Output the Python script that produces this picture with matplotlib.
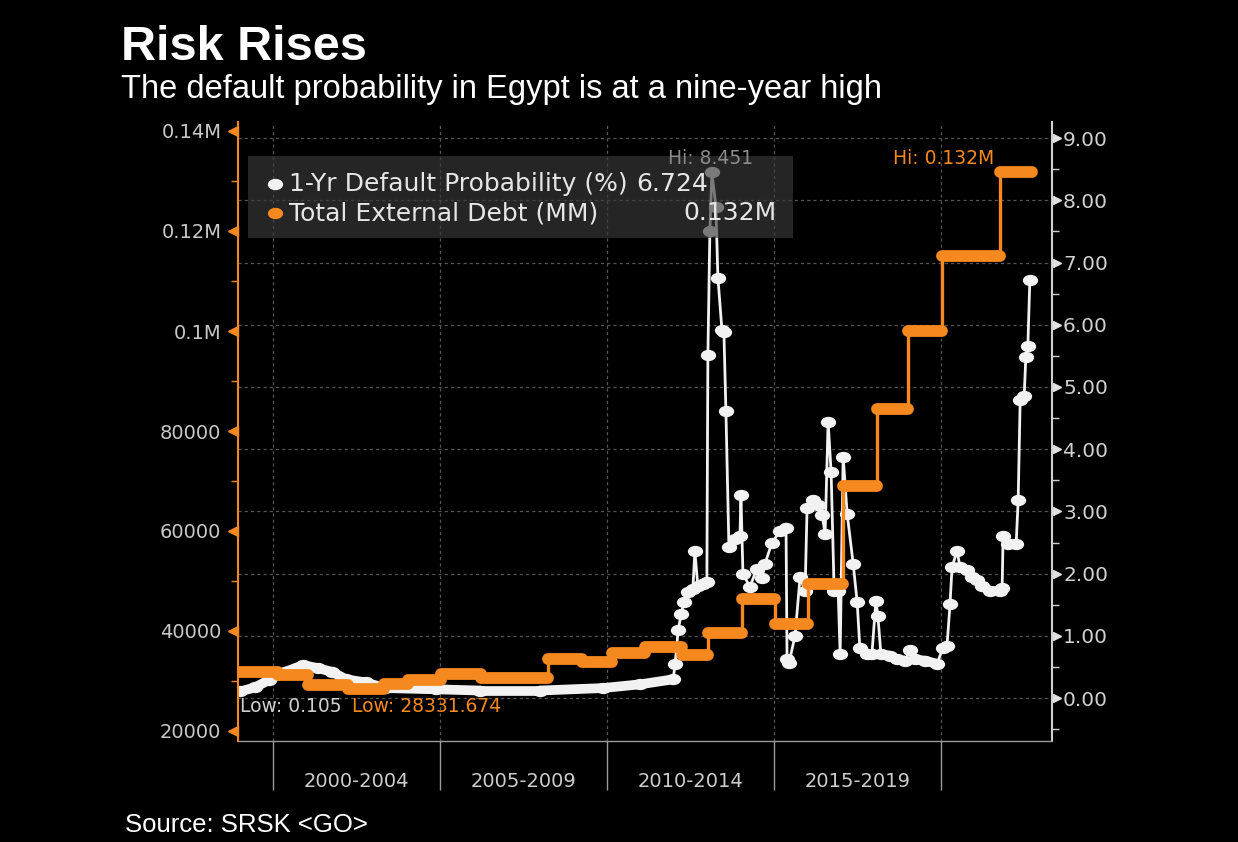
import numpy as np
import matplotlib
matplotlib.use("Agg")
import matplotlib.pyplot as plt
from matplotlib.path import Path
from matplotlib.transforms import Affine2D
from matplotlib.patches import Rectangle
from matplotlib.lines import Line2D
from matplotlib.collections import LineCollection
from matplotlib.ticker import FuncFormatter, MultipleLocator

# 1-Yr default probability (%), by decimal year
prob_year = [1999.01, 1999.46, 1999.88, 2000.36, 2000.90, 2001.35, 2001.77, 2002.19, 2002.78, 2003.35,
             2004.88, 2006.20, 2007.99, 2009.88, 2010.99, 2011.98,
             2012.04, 2012.13, 2012.22, 2012.31, 2012.43, 2012.57, 2012.63, 2012.72, 2012.87, 2012.99,
             2013.02, 2013.08, 2013.14, 2013.26, 2013.32, 2013.44, 2013.50, 2013.56, 2013.65, 2013.83, 2013.98,
             2014.01, 2014.07, 2014.28, 2014.49, 2014.64, 2014.73, 2014.94, 2015.18, 2015.36,
             2015.39, 2015.45, 2015.63, 2015.78, 2015.93, 2015.99, 2016.17, 2016.32, 2016.44, 2016.53,
             2016.62, 2016.71, 2016.80, 2016.92, 2016.98, 2017.07, 2017.19, 2017.37, 2017.49, 2017.57,
             2017.78, 2017.93, 2018.05, 2018.11, 2018.20, 2018.47, 2018.68, 2018.92, 2019.07, 2019.22,
             2019.52, 2019.88, 2020.06, 2020.18, 2020.27, 2020.33, 2020.48, 2020.57, 2020.78, 2020.93,
             2021.08, 2021.23, 2021.47, 2021.77, 2021.83, 2021.86, 2022.01, 2022.25, 2022.31, 2022.37,
             2022.49, 2022.54, 2022.60, 2022.66]
prob_value = [0.105, 0.17, 0.29, 0.42, 0.53, 0.48, 0.42, 0.30, 0.25, 0.16,
              0.14, 0.12, 0.12, 0.16, 0.22, 0.30,
              0.55, 1.09, 1.35, 1.55, 1.70, 1.75, 2.36, 1.80, 1.84, 1.87,
              5.51, 7.51, 8.451, 7.90, 6.76, 5.92, 5.88, 4.62, 2.42, 2.55, 2.60,
              3.26, 1.99, 1.79, 2.08, 1.93, 2.16, 2.50, 2.68, 2.74,
              0.62, 0.57, 1.00, 1.94, 1.72, 3.05, 3.18, 3.10, 2.94, 2.64,
              4.44, 3.63, 1.72, 1.72, 0.71, 3.88, 2.96, 2.16, 1.54, 0.81,
              0.71, 0.70, 1.56, 1.32, 0.71, 0.68, 0.62, 0.60, 0.77, 0.62,
              0.60, 0.55, 0.81, 0.84, 1.51, 2.10, 2.37, 2.10, 2.05, 1.95,
              1.89, 1.80, 1.72, 1.72, 1.77, 2.61, 2.48, 2.48, 3.18, 4.79,
              4.85, 5.49, 5.66, 6.724]

# Total external debt (MM), value holds from each start year to the next
debt_year = [1999.0, 2000.15, 2001.05, 2002.25, 2003.32, 2004.04, 2005.03, 2006.23, 2008.23, 2009.25,
             2010.15, 2011.14, 2012.25, 2013.02, 2014.04, 2015.03, 2016.02, 2017.07, 2018.08, 2019.01,
             2020.03, 2021.77]
debt_value = [31860, 31200, 29200, 28332, 29400, 30200, 31500, 30600, 34500, 33900,
              35600, 36800, 35200, 39700, 46500, 41500, 49500, 69000, 84500, 100000,
              115000, 131800]
debt_last = 2022.72

period_edges = [2000, 2005, 2010, 2015, 2020]
period_mid = [2002.5, 2007.5, 2012.5, 2017.5]
period_labels = ['2000-2004', '2005-2009', '2010-2014', '2015-2019']
prob_ticks = list(range(10))
debt_ticks = [20000, 40000, 60000, 80000, 100000, 120000, 140000]

ORANGE = '#f5891f'
WHITE = '#f2f2f2'
GRID = '#555555'

plt.rcParams['font.family'] = 'DejaVu Sans'

W, H = 1238, 842
fig = plt.figure(figsize=(W / 100, H / 100), dpi=100, facecolor='black')


def fx(px):
    return px / W


def fy(py):
    return 1 - py / H


# stretched ellipse marker, like the original's dots
ELL = Affine2D().scale(1.4, 1.0).transform_path(Path.unit_circle())

ax = fig.add_axes([fx(238), fy(741), fx(1052) - fx(238), fy(122) - fy(741)])
ax.set_facecolor('black')
ax.set_xlim(1998.952, 2023.323)
ax.set_ylim(-0.691, 9.26)

axd = ax.twinx()
axd.set_ylim(18000, 141800)

# right axis: probability
ax.yaxis.tick_right()
ax.set_yticks(prob_ticks)
ax.yaxis.set_major_formatter(FuncFormatter(lambda v, p: f'{v:.2f}'))
ax.yaxis.set_minor_locator(MultipleLocator(0.5))
ax.tick_params(axis='y', which='major', length=0, pad=8, labelsize=14.5, labelcolor='#d0d0d0')
ax.tick_params(axis='y', which='minor', length=5, width=1, color='#d0d0d0', direction='out')

# left axis: debt
axd.yaxis.tick_left()
axd.yaxis.set_label_position('left')
axd.set_yticks(debt_ticks)
axd.yaxis.set_major_formatter(FuncFormatter(lambda v, p: f'{v / 1e6:g}M' if v >= 100000 else f'{v:.0f}'))
axd.yaxis.set_minor_locator(MultipleLocator(10000))
axd.tick_params(axis='y', which='major', length=0, pad=12, labelsize=14, labelcolor='#c8c8c8')
axd.tick_params(axis='y', which='minor', length=5, width=1, color=ORANGE, direction='out')

# x axis: period dividers and centred labels
ax.set_xticks(period_edges)
ax.set_xticklabels([])
ax.set_xticks(period_mid, minor=True)
ax.set_xticklabels(period_labels, minor=True)
ax.tick_params(axis='x', which='major', length=35, width=1, color='#9a9a9a', direction='out')
ax.tick_params(axis='x', which='minor', length=0, pad=22, labelsize=14, labelcolor='#cccccc')

for s in ['left', 'top']:
    ax.spines[s].set_visible(False)
ax.spines['right'].set_color('#d0d0d0')
ax.spines['right'].set_linewidth(1.5)
ax.spines['bottom'].set_color('#9a9a9a')
ax.spines['bottom'].set_linewidth(1)
for s in ['right', 'top', 'bottom']:
    axd.spines[s].set_visible(False)
axd.spines['left'].set_color(ORANGE)
axd.spines['left'].set_linewidth(1.5)

ax.grid(axis='y', which='major', color=GRID, lw=0.9, ls=(0, (2.5, 2.5)))
ax.grid(axis='x', which='major', color=GRID, lw=0.9, ls=(0, (2.5, 2.5)))
ax.set_axisbelow(True)

# triangle tick marks
ax.plot([1.0065] * len(prob_ticks), prob_ticks, transform=ax.get_yaxis_transform(),
        ls='none', marker='>', ms=6, color='#e0e0e0', clip_on=False)
axd.plot([-0.0065] * len(debt_ticks), debt_ticks, transform=axd.get_yaxis_transform(),
         ls='none', marker='<', ms=7, color=ORANGE, clip_on=False)

# probability series: thin line for jumps, thick where points run along
ax.plot(prob_year, prob_value, color=WHITE, lw=2.0, zorder=3)
pts = ax.transData.transform(np.column_stack([prob_year, prob_value]))
segs = []
for i in range(len(prob_year) - 1):
    dx = abs(pts[i + 1, 0] - pts[i, 0])
    dy = abs(pts[i + 1, 1] - pts[i, 1])
    if dy <= 1.2 * dx:
        segs.append([(prob_year[i], prob_value[i]), (prob_year[i + 1], prob_value[i + 1])])
ax.add_collection(LineCollection(segs, colors=WHITE, linewidths=7, capstyle='round', zorder=3))
ax.plot(prob_year, prob_value, ls='none', marker=ELL, ms=10, color=WHITE, zorder=4)

# debt series: stepped
debt_end = debt_year[1:] + [debt_last]
axd.step(debt_year + [debt_last], debt_value + [debt_value[-1]], where='post', color=ORANGE, lw=2.4)
axd.hlines(debt_value, debt_year, debt_end, colors=ORANGE, lw=8.5, capstyle='round')

# legend box
fig.add_artist(Rectangle((fx(248), fy(238)), fx(793) - fx(248), fy(156) - fy(238),
                         transform=fig.transFigure, facecolor='#3a3a3a', alpha=0.65,
                         edgecolor='none', zorder=5))
fig.add_artist(Line2D([fx(275)], [fy(184)], marker=ELL, ms=10, color=WHITE, ls='none',
                      transform=fig.transFigure, zorder=6))
fig.add_artist(Line2D([fx(275)], [fy(213)], marker=ELL, ms=10, color=ORANGE, ls='none',
                      transform=fig.transFigure, zorder=6))
leg_kw = dict(fontsize=18, color='#e6e6e6', va='center', ha='left', zorder=7)
fig.text(fx(289), fy(184), '1-Yr Default Probability (%)', **leg_kw)
fig.text(fx(636), fy(184), '6.724', **leg_kw)
fig.text(fx(289), fy(213), 'Total External Debt (MM)', **leg_kw)
fig.text(fx(683), fy(213), '0.132M', **leg_kw)

# hi / low labels
fig.text(fx(668), fy(159), 'Hi: 8.451', fontsize=13.5, color='#8c8c8c', va='center', zorder=7)
fig.text(fx(893), fy(159), 'Hi: 0.132M', fontsize=13.5, color=ORANGE, va='center', zorder=7)
fig.text(fx(240), fy(706), 'Low: 0.105', fontsize=13.5, color='#d0d0d0', va='center', zorder=7)
fig.text(fx(352), fy(706), 'Low: 28331.674', fontsize=13.5, color=ORANGE, va='center', zorder=7)

# titles
fig.text(fx(121), fy(60), 'Risk Rises', fontsize=35, fontweight='bold', color='white',
         family='Liberation Sans', va='baseline')
fig.text(fx(121), fy(98), 'The default probability in Egypt is at a nine-year high', fontsize=23.5,
         color='white', family='Liberation Sans', va='baseline')
fig.text(fx(125), fy(832), 'Source: SRSK <GO>', fontsize=18.5, color='white',
         family='Liberation Sans', va='baseline')

fig.savefig('out.png', dpi=100, facecolor='black')
